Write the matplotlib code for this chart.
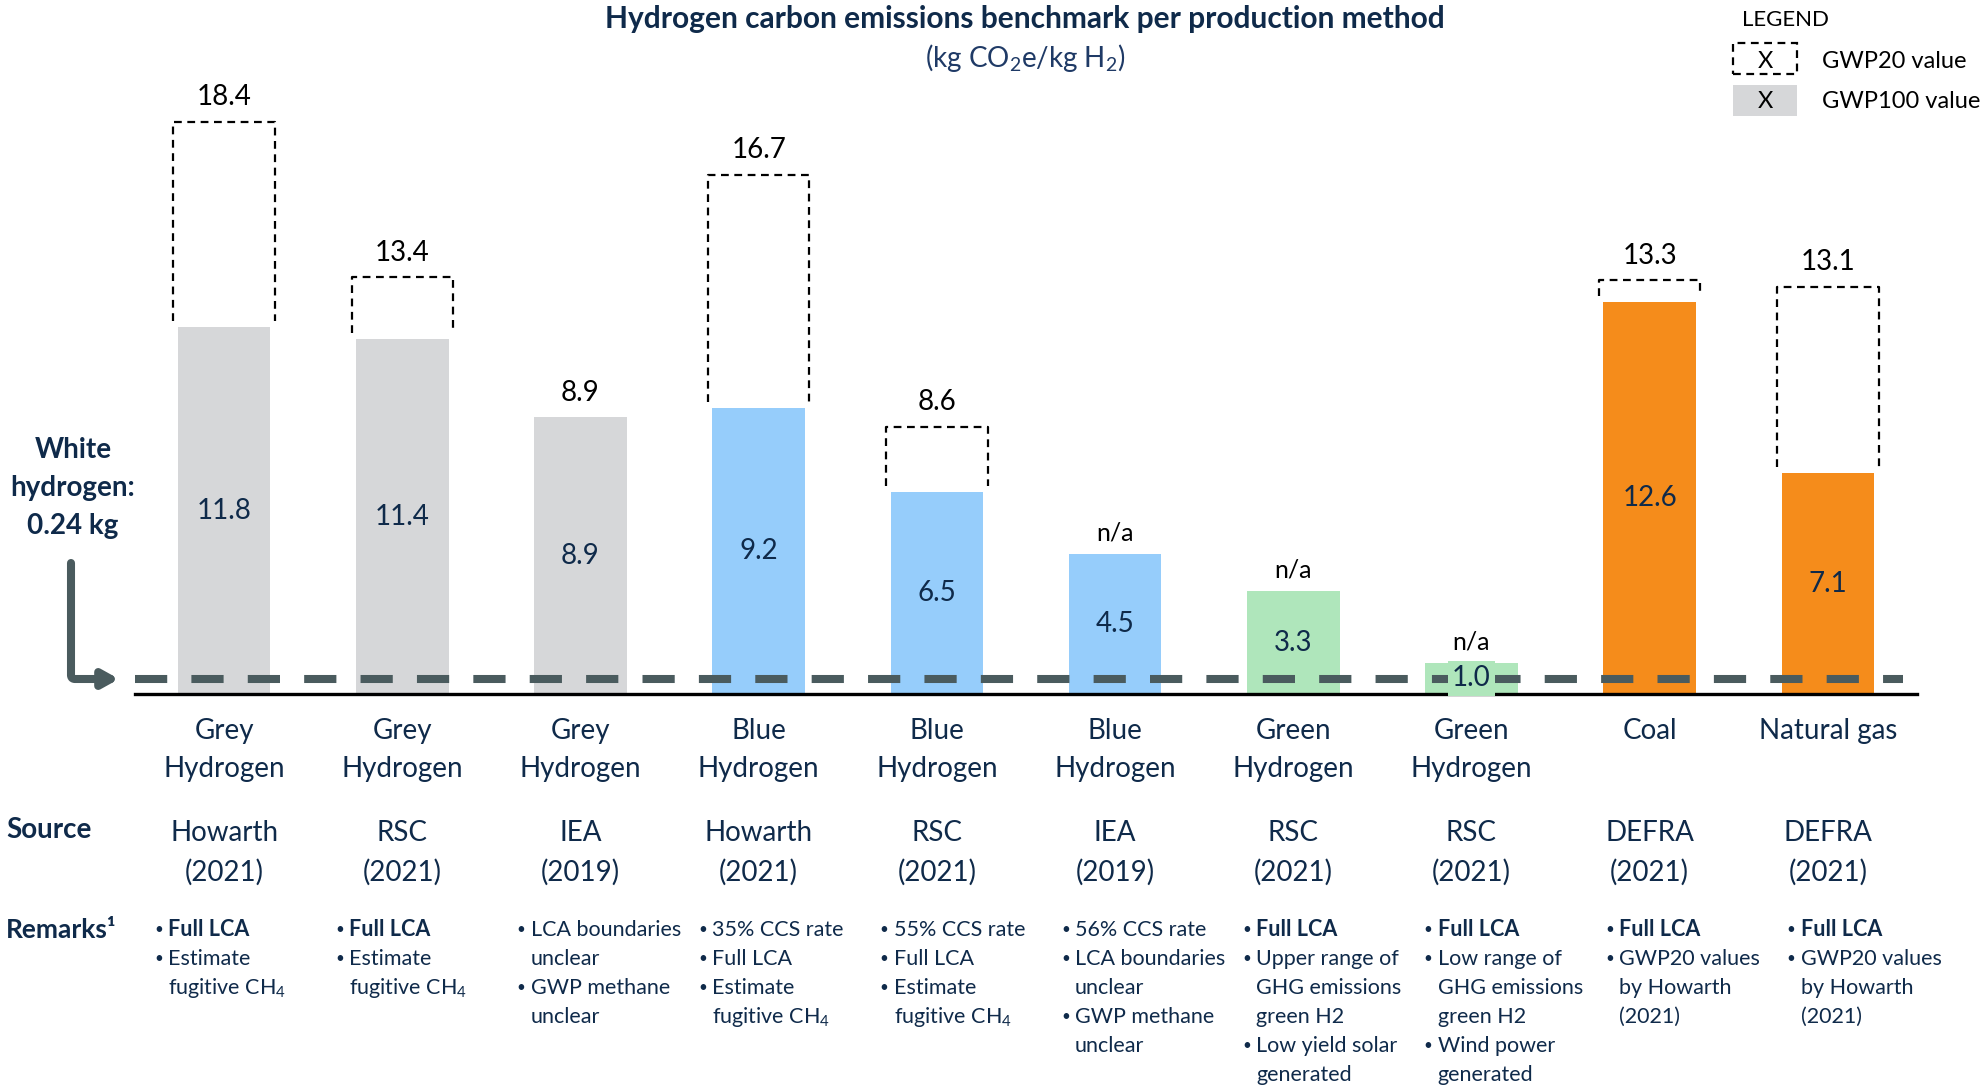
import matplotlib
matplotlib.use("Agg")
import matplotlib.pyplot as plt
from matplotlib.patches import Rectangle
from matplotlib.transforms import blended_transform_factory

plt.rcParams['font.family'] = ['Lato', 'DejaVu Sans']
plt.rcParams['mathtext.default'] = 'regular'

# ---- data ----
categories = ["Grey\nHydrogen", "Grey\nHydrogen", "Grey\nHydrogen", "Blue\nHydrogen", "Blue\nHydrogen",
              "Blue\nHydrogen", "Green\nHydrogen", "Green\nHydrogen", "Coal", "Natural gas"]
sources = ["Howarth\n(2021)", "RSC\n(2021)", "IEA\n(2019)", "Howarth\n(2021)", "RSC\n(2021)",
           "IEA\n(2019)", "RSC\n(2021)", "RSC\n(2021)", "DEFRA\n(2021)", "DEFRA\n(2021)"]
gwp100 = [11.8, 11.4, 8.9, 9.2, 6.5, 4.5, 3.3, 1.0, 12.6, 7.1]
gwp20 = [18.4, 13.4, 8.9, 16.7, 8.6, None, None, None, 13.3, 13.1]
bar_colors = ["#d6d7d9", "#d6d7d9", "#d6d7d9", "#96cdfb", "#96cdfb", "#96cdfb",
              "#afe6bb", "#afe6bb", "#f58c1b", "#f58c1b"]
white_h2_label = "White\nhydrogen:\n0.24 kg"

# (text, bold) per bullet
remarks = [
    [("Full LCA", True), ("Estimate\nfugitive CH$_4$", False)],
    [("Full LCA", True), ("Estimate\nfugitive CH$_4$", False)],
    [("LCA boundaries\nunclear", False), ("GWP methane\nunclear", False)],
    [("35% CCS rate", False), ("Full LCA", False), ("Estimate\nfugitive CH$_4$", False)],
    [("55% CCS rate", False), ("Full LCA", False), ("Estimate\nfugitive CH$_4$", False)],
    [("56% CCS rate", False), ("LCA boundaries\nunclear", False), ("GWP methane\nunclear", False)],
    [("Full LCA", True), ("Upper range of\nGHG emissions\ngreen H2", False), ("Low yield solar\ngenerated", False)],
    [("Full LCA", True), ("Low range of\nGHG emissions\ngreen H2", False), ("Wind power\ngenerated", False)],
    [("Full LCA", True), ("GWP20 values\nby Howarth\n(2021)", False)],
    [("Full LCA", True), ("GWP20 values\nby Howarth\n(2021)", False)],
]

NAVY = "#0f2a4a"
LINE_GREY = "#4a5b5e"
W, H = 1983, 1091


def fx(px):
    return px / W


def fy(top_px):
    return 1 - top_px / H


fig = plt.figure(figsize=(W / 100, H / 100), dpi=100)
ax = fig.add_axes([fx(135), fy(694), fx(1782), 622 / H])
ax.set_xlim(-0.5, 9.5)
ax.set_ylim(0, 20)
ax.axis('off')

xs = list(range(len(gwp100)))
bw = 0.52
bx = 0.57
ax.bar(xs, gwp100, width=bw, color=bar_colors, zorder=2)

# open dashed boxes for the GWP20 values
for x, lo, hi in zip(xs, gwp100, gwp20):
    if hi is not None and hi > lo:
        ax.plot([x - bx / 2, x - bx / 2, x + bx / 2, x + bx / 2], [lo + 0.2, hi, hi, lo + 0.2],
                color='black', lw=1.6, ls=(0, (3.5, 2.5)), zorder=2)

# labels above and inside bars
for x, lo, hi in zip(xs, gwp100, gwp20):
    top = lo if hi is None else max(lo, hi)
    txt = "n/a" if hi is None else f"{hi:.1f}"
    fs = 18 if hi is None else 20
    off = 10 if hi is None else 12
    ax.annotate(txt, (x, top), xytext=(0, off), textcoords='offset points', ha='center',
                va='baseline', fontsize=fs, color='black', zorder=5)
    kw = {}
    if lo < 2:
        kw['bbox'] = dict(facecolor=bar_colors[x], edgecolor='none', pad=3)
    ax.text(x, lo / 2, f"{lo:.1f}", ha='center', va='center', fontsize=20, color=NAVY, zorder=6, **kw)

# baseline and white hydrogen reference line
ax.plot([-0.5, 9.5], [0, 0], color='black', lw=2.4, zorder=3, clip_on=False)
ax.plot([-0.5, 9.42], [0.48, 0.48], color=LINE_GREY, lw=5.8, ls=(0, (4, 3)),
        solid_capstyle='butt', dash_capstyle='butt', zorder=4, clip_on=False)

# elbow arrow from the white hydrogen note
ax.annotate('', xy=(119, H - 679), xytext=(71, H - 563), xycoords='figure pixels',
            textcoords='figure pixels',
            arrowprops=dict(arrowstyle='-|>,head_length=0.9,head_width=0.5', color=LINE_GREY, lw=5.8,
                            connectionstyle='angle,angleA=-90,angleB=180,rad=4', shrinkA=0, shrinkB=0))
for i, line in enumerate(white_h2_label.split("\n")):
    fig.text(fx(73), fy(450 + 38 * i), line, ha='center', va='center', fontsize=20,
             fontweight='bold', color=NAVY)

# category / source rows
tr = blended_transform_factory(ax.transData, fig.transFigure)
for x, cat, src in zip(xs, categories, sources):
    for j, line in enumerate(cat.split("\n")):
        ax.text(x, fy(731 + 38 * j), line, transform=tr, ha='center', va='center', fontsize=20, color=NAVY)
    for j, line in enumerate(src.split("\n")):
        ax.text(x, fy(833 + 39 * j), line, transform=tr, ha='center', va='center', fontsize=20, color=NAVY)

fig.text(fx(6), fy(830), "Source", ha='left', va='center', fontsize=20, fontweight='bold', color=NAVY)
fig.text(fx(6), fy(930), "Remarks\u00b9", ha='left', va='center', fontsize=19, fontweight='bold', color=NAVY)

# remarks bullets
for i, col in enumerate(remarks):
    x0 = 154 + 181.4 * i
    row = 0
    for text, bold in col:
        fig.text(fx(x0), fy(930 + 29 * row), "\u2022", ha='left', va='center', fontsize=11, color=NAVY)
        for line in text.split("\n"):
            fig.text(fx(x0 + 14), fy(930 + 29 * row), line, ha='left', va='center', fontsize=15.5,
                     fontweight='bold' if bold else 'normal', color=NAVY)
            row += 1

# title
fig.text(fx(1025), fy(19), "Hydrogen carbon emissions benchmark per production method", ha='center',
         va='center', fontsize=21.5, fontweight='bold', color=NAVY)
fig.text(fx(1025), fy(58), "(kg CO$_2$e/kg H$_2$)", ha='center', va='center', fontsize=20, color="#1f3a66")

# legend
fig.text(fx(1786), fy(20), "LEGEND", ha='center', va='center', fontsize=16, color='black')
fig.add_artist(Rectangle((fx(1733), fy(74)), fx(64), 31 / H, transform=fig.transFigure, fill=False,
                         edgecolor='black', lw=1.6, ls=(0, (3.5, 2.5))))
fig.add_artist(Rectangle((fx(1733), fy(116)), fx(64), 31 / H, transform=fig.transFigure,
                         facecolor=bar_colors[0], edgecolor='none'))
fig.text(fx(1765), fy(61), "X", ha='center', va='center', fontsize=17, color='black')
fig.text(fx(1765), fy(101), "X", ha='center', va='center', fontsize=17, color='black')
fig.text(fx(1822), fy(61), "GWP20 value", ha='left', va='center', fontsize=17, color='black')
fig.text(fx(1822), fy(101), "GWP100 value", ha='left', va='center', fontsize=17, color='black')

fig.savefig("out.png", dpi=100)
